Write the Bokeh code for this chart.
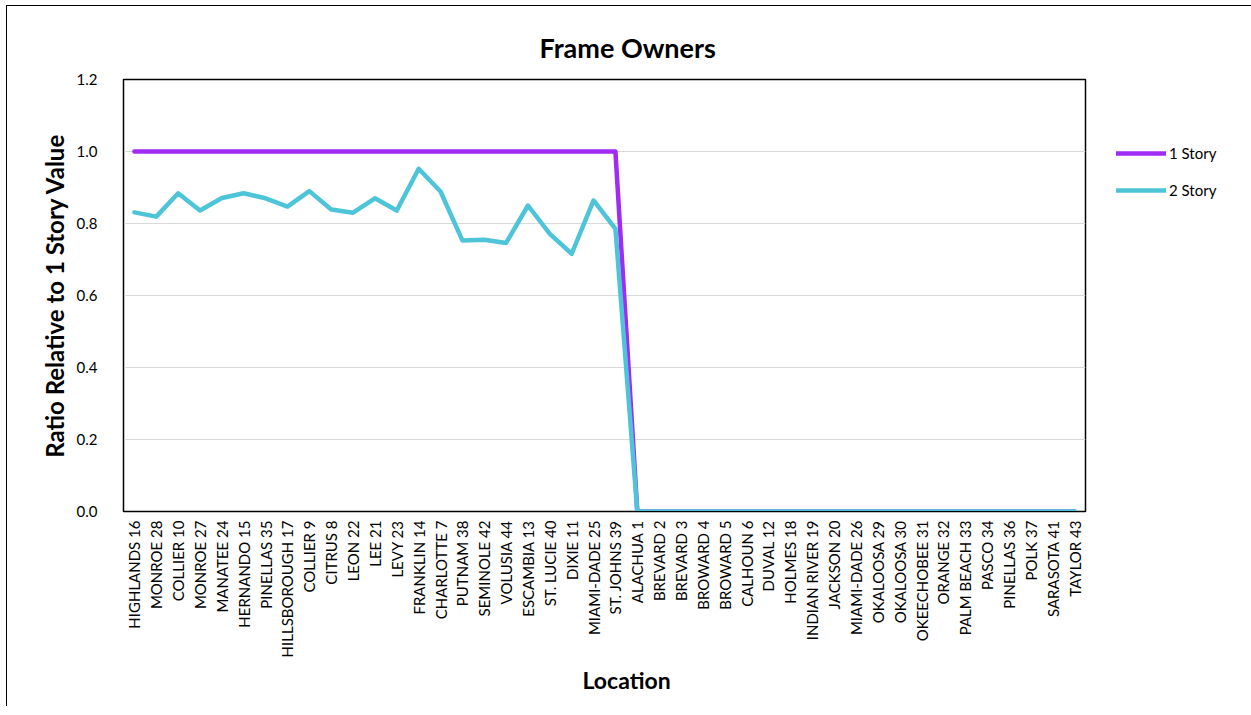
from bokeh.plotting import figure
from bokeh.models import FactorRange, Range1d, FixedTicker, NumeralTickFormatter, Legend, LegendItem, Title
from bokeh.embed import file_html
from bokeh.resources import INLINE
import math

locations = [
    "HIGHLANDS 16", "MONROE 28", "COLLIER 10", "MONROE 27", "MANATEE 24",
    "HERNANDO 15", "PINELLAS 35", "HILLSBOROUGH 17", "COLLIER 9", "CITRUS 8",
    "LEON 22", "LEE 21", "LEVY 23", "FRANKLIN 14", "CHARLOTTE 7",
    "PUTNAM 38", "SEMINOLE 42", "VOLUSIA 44", "ESCAMBIA 13", "ST. LUCIE 40",
    "DIXIE 11", "MIAMI-DADE 25", "ST. JOHNS 39", "ALACHUA 1", "BREVARD 2",
    "BREVARD 3", "BROWARD 4", "BROWARD 5", "CALHOUN 6", "DUVAL 12",
    "HOLMES 18", "INDIAN RIVER 19", "JACKSON 20", "MIAMI-DADE 26", "OKALOOSA 29",
    "OKALOOSA 30", "OKEECHOBEE 31", "ORANGE 32", "PALM BEACH 33", "PASCO 34",
    "PINELLAS 36", "POLK 37", "SARASOTA 41", "TAYLOR 43",
]

story1 = [
    1.0, 1.0, 1.0, 1.0, 1.0, 1.0, 1.0, 1.0, 1.0, 1.0,
    1.0, 1.0, 1.0, 1.0, 1.0, 1.0, 1.0, 1.0, 1.0, 1.0,
    1.0, 1.0, 1.0, 0.0, 0.0, 0.0, 0.0, 0.0, 0.0, 0.0,
    0.0, 0.0, 0.0, 0.0, 0.0, 0.0, 0.0, 0.0, 0.0, 0.0,
    0.0, 0.0, 0.0, 0.0,
]

story2 = [
    0.831, 0.819, 0.884, 0.836, 0.871, 0.884, 0.870, 0.847, 0.890, 0.839,
    0.830, 0.870, 0.836, 0.952, 0.889, 0.753, 0.755, 0.746, 0.850, 0.771,
    0.716, 0.864, 0.785, 0.0, 0.0, 0.0, 0.0, 0.0, 0.0, 0.0,
    0.0, 0.0, 0.0, 0.0, 0.0, 0.0, 0.0, 0.0, 0.0, 0.0,
    0.0, 0.0, 0.0, 0.0,
]

y_ticks = [0.0, 0.2, 0.4, 0.6, 0.8, 1.0, 1.2]

FONT = "Lato"
PURPLE = "#A02BF5"
CYAN = "#4EC4D9"

p = figure(
    x_range=FactorRange(*locations, range_padding=0),
    y_range=Range1d(0, 1.2),
    frame_width=962, frame_height=432,
    min_border_left=116, min_border_right=157,
    min_border_top=73, min_border_bottom=195,
    output_backend="svg", toolbar_location=None,
)
p.styles = {"border-left": "1.5px solid black", "border-top": "1.5px solid black",
            "margin-left": "6px", "margin-top": "5px"}

p.outline_line_color = "black"
p.outline_line_width = 1.5

r1 = p.line(locations, story1, line_color=PURPLE, line_width=4.5, line_join="round", line_cap="round")
r2 = p.line(locations, story2, line_color=CYAN, line_width=4.5, line_join="round", line_cap="round")

# chart title and x-axis title (left-aligned with offsets so they centre on the whole chart)
p.add_layout(Title(text="Frame Owners", align="left", offset=416, standoff=31,
                   text_font=FONT, text_font_size="27px", text_font_style="bold",
                   text_color="black"), "above")
p.add_layout(Title(text="Location", align="left", offset=459, standoff=6,
                   text_font=FONT, text_font_size="23px", text_font_style="bold",
                   text_color="black"), "below")

# axes
p.yaxis.ticker = FixedTicker(ticks=y_ticks)
p.yaxis.formatter = NumeralTickFormatter(format="0.0")
p.yaxis.axis_label = "Ratio Relative to 1 Story Value"
p.yaxis.axis_label_text_font = FONT
p.yaxis.axis_label_text_font_size = "24px"
p.yaxis.axis_label_text_font_style = "bold"
p.yaxis.axis_label_text_color = "black"
p.yaxis.axis_label_standoff = 5
p.yaxis.major_label_text_font = FONT
p.yaxis.major_label_text_font_size = "15px"
p.yaxis.major_label_text_color = "black"
p.yaxis.major_label_standoff = 26
p.yaxis.major_tick_out = 0
p.yaxis.major_tick_in = 0
p.yaxis.minor_tick_out = 0
p.yaxis.minor_tick_in = 0
p.yaxis.axis_line_color = "black"

p.xaxis.major_label_orientation = math.pi / 2
p.xaxis.major_label_text_font = FONT
p.xaxis.major_label_text_font_size = "15px"
p.xaxis.major_label_text_color = "black"
p.xaxis.major_label_standoff = 9
p.xaxis.major_tick_out = 0
p.xaxis.major_tick_in = 0
p.xaxis.axis_line_color = "black"

p.xgrid.grid_line_color = None
p.ygrid.grid_line_color = "#D9D9D9"
p.ygrid.grid_line_width = 1.2

legend = Legend(
    items=[LegendItem(label="1 Story", renderers=[r1]), LegendItem(label="2 Story", renderers=[r2])],
    location=(31, 311), orientation="vertical",
    label_text_font=FONT, label_text_font_size="15px", label_text_color="black",
    glyph_width=50, glyph_height=20, label_standoff=3, spacing=17,
    padding=0, margin=0, border_line_color=None, background_fill_alpha=0,
)
p.add_layout(legend, "right")

open("out.html", "w").write(file_html(p, INLINE))
